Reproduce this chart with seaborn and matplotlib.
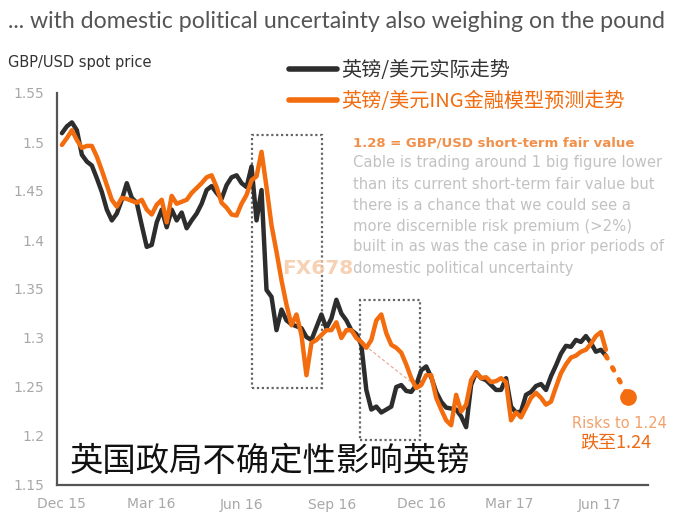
import pandas as pd
import numpy as np
import matplotlib
matplotlib.use("Agg")
import matplotlib.pyplot as plt
import matplotlib.dates as mdates
from matplotlib.patches import Rectangle
import seaborn as sns

start_date = "2015-12-01"
step = "122h"
actual = [1.509, 1.516, 1.520, 1.512, 1.487, 1.480, 1.476, 1.463, 1.449, 1.431,
          1.420, 1.427, 1.441, 1.458, 1.443, 1.438, 1.415, 1.393, 1.395, 1.418,
          1.431, 1.413, 1.431, 1.420, 1.428, 1.412, 1.420, 1.427, 1.437, 1.451,
          1.455, 1.448, 1.442, 1.456, 1.464, 1.466, 1.458, 1.454, 1.475, 1.420,
          1.451, 1.349, 1.342, 1.308, 1.329, 1.318, 1.314, 1.312, 1.310, 1.301,
          1.298, 1.311, 1.324, 1.310, 1.320, 1.339, 1.325, 1.318, 1.308, 1.304,
          1.293, 1.247, 1.227, 1.230, 1.224, 1.227, 1.230, 1.250, 1.252, 1.246,
          1.245, 1.252, 1.267, 1.271, 1.260, 1.245, 1.235, 1.229, 1.228, 1.227,
          1.220, 1.209, 1.252, 1.265, 1.259, 1.257, 1.252, 1.247, 1.247, 1.259,
          1.230, 1.224, 1.225, 1.242, 1.245, 1.251, 1.253, 1.247, 1.261, 1.272,
          1.284, 1.292, 1.291, 1.298, 1.296, 1.302, 1.295, 1.286, 1.288, 1.282]
model = [1.497, 1.504, 1.512, 1.502, 1.494, 1.496, 1.496, 1.485, 1.471, 1.456,
         1.441, 1.434, 1.443, 1.442, 1.440, 1.438, 1.441, 1.431, 1.426, 1.436,
         1.441, 1.418, 1.445, 1.437, 1.439, 1.441, 1.448, 1.453, 1.458, 1.464,
         1.466, 1.454, 1.438, 1.433, 1.426, 1.425, 1.437, 1.446, 1.461, 1.465,
         1.490, 1.454, 1.415, 1.388, 1.359, 1.334, 1.313, 1.324, 1.303, 1.262,
         1.295, 1.298, 1.303, 1.308, 1.308, 1.316, 1.300, 1.308, 1.308, 1.300,
         1.296, 1.290, 1.298, 1.318, 1.324, 1.305, 1.293, 1.290, 1.285, 1.273,
         1.259, 1.249, 1.252, 1.262, 1.262, 1.239, 1.227, 1.216, 1.211, 1.242,
         1.225, 1.232, 1.257, 1.265, 1.259, 1.260, 1.255, 1.256, 1.259, 1.255,
         1.216, 1.224, 1.219, 1.229, 1.239, 1.244, 1.239, 1.232, 1.235, 1.250,
         1.264, 1.273, 1.280, 1.282, 1.286, 1.288, 1.294, 1.302, 1.306, 1.288]
series_names = ["英镑/美元实际走势", "英镑/美元ING金融模型预测走势"]
risk_date, risk_value = "2017-06-30", 1.24

x_ticks = ["2015-12-01", "2016-03-01", "2016-06-01", "2016-09-01",
           "2016-12-01", "2017-03-01", "2017-06-01"]
x_labels = ["Dec 15", "Mar 16", "Jun 16", "Sep 16", "Dec 16", "Mar 17", "Jun 17"]
y_ticks = [1.15, 1.2, 1.25, 1.3, 1.35, 1.4, 1.45, 1.5, 1.55]
y_labels = ["1.15", "1.2", "1.25", "1.3", "1.35", "1.4", "1.45", "1.5", "1.55"]

note_title = "1.28 = GBP/USD short-term fair value"
note_lines = ["Cable is trading around 1 big figure lower",
              "than its current short-term fair value but",
              "there is a chance that we could see a",
              "more discernible risk premium (>2%)",
              "built in as was the case in prior periods of",
              "domestic political uncertainty"]

BLACK = "#2d2d2d"
ORANGE = "#f36c0e"
CJK = ["Noto Sans CJK SC", "DejaVu Sans"]

sns.set_theme(style="white")
plt.rcParams["font.family"] = ["DejaVu Sans"]

dates = pd.date_range(start_date, periods=len(actual), freq=step)
df = pd.DataFrame({
    "date": np.concatenate([dates, dates]),
    "value": actual + model,
    "series": [series_names[0]] * len(actual) + [series_names[1]] * len(model),
})

W, H = 691, 531
fig = plt.figure(figsize=(W / 100, H / 100), dpi=100)
ax = fig.add_axes([57 / W, 1 - 485 / H, (648 - 57) / W, (485 - 93) / H])

sns.lineplot(data=df, x="date", y="value", hue="series", hue_order=series_names,
             palette=[BLACK, ORANGE], linewidth=3.2, ax=ax)

# risk path
last = pd.Timestamp(dates[-1])
ax.plot([last, pd.Timestamp(risk_date)], [actual[-1], risk_value], color=ORANGE,
        linestyle=(0, (0.6, 2.2)), linewidth=3.5, dash_capstyle="round")
ax.plot([pd.Timestamp(risk_date)], [risk_value], "o", color=ORANGE, markersize=11)

# dotted boxes around the political shocks
for x0, x1, y0, y1 in [("2016-06-12", "2016-08-22", 1.249, 1.507),
                       ("2016-09-30", "2016-11-30", 1.196, 1.339)]:
    a, b = mdates.date2num(pd.Timestamp(x0)), mdates.date2num(pd.Timestamp(x1))
    ax.add_patch(Rectangle((a, y0), b - a, y1 - y0, fill=False, edgecolor="#666666",
                           linestyle=(0, (1, 1.2)), linewidth=1.6, zorder=1))
ax.plot([pd.Timestamp("2016-09-30"), pd.Timestamp("2016-11-22")], [1.296, 1.254],
        color="#e9a68a", linewidth=0.8, linestyle=(0, (3, 2)), zorder=1)

ax.set_xlim(pd.Timestamp("2015-11-26"), pd.Timestamp("2017-07-20"))
ax.set_ylim(1.15, 1.55)
ax.set_xticks(pd.to_datetime(x_ticks))
ax.set_xticklabels(x_labels)
ax.set_yticks(y_ticks)
ax.set_yticklabels(y_labels)
ax.set_xlabel("")
ax.set_ylabel("")
ax.tick_params(axis="both", colors="#666666", labelcolor="#a8a8a8", labelsize=10,
               length=4, width=1.3, direction="out", pad=5)
for side in ["top", "right"]:
    ax.spines[side].set_visible(False)
for side in ["left", "bottom"]:
    ax.spines[side].set_color("#555555")
    ax.spines[side].set_linewidth(1.6)

leg = ax.legend(loc="upper left", bbox_to_anchor=(271 / W, 1 - 42 / H),
                bbox_transform=fig.transFigure, frameon=False, handlelength=2.4,
                handletextpad=0.2, labelspacing=0.5, prop={"family": CJK, "size": 14.5})
for line in leg.get_lines():
    line.set_linewidth(4)
leg.get_texts()[0].set_color("#333333")
leg.get_texts()[1].set_color(ORANGE)

# texts
fig.text(8 / W, 1 - 22 / H, "... with domestic political uncertainty also weighing on the pound",
         fontsize=16.7, color="#555555", va="center", ha="left", family=["Lato", "DejaVu Sans"])
fig.text(8 / W, 1 - 63 / H, "GBP/USD spot price", fontsize=10.5, color="#333333",
         va="center", ha="left")
fig.text(353 / W, 1 - 143 / H, note_title, fontsize=9.5, fontweight="bold",
         color="#f0904a", va="center", ha="left")
for i, line in enumerate(note_lines):
    fig.text(353 / W, 1 - (163 + 21 * i) / H, line, fontsize=10.6, color="#c2c2c2",
             va="center", ha="left")
fig.text(282 / W, 1 - 268 / H, "FX678", fontsize=14.5, fontweight="bold", color="#f6c9a6",
         alpha=0.85, va="center", ha="left")
fig.text(70 / W, 1 - 462 / H, "英国政局不确定性影响英镑", fontsize=24, color="#111111",
         va="center", ha="left", family=CJK)
fig.text(619 / W, 1 - 423 / H, "Risks to 1.24", fontsize=10.5, color="#f2a06a",
         va="center", ha="center")
fig.text(616 / W, 1 - 443 / H, "跌至1.24", fontsize=13, color="#ec6a14",
         va="center", ha="center", family=CJK)

fig.savefig("out.png", dpi=100)
